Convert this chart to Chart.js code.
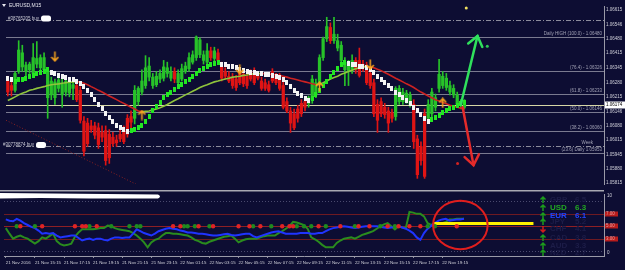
<!DOCTYPE html>
<html>
<head>
<meta charset="utf-8">
<script src="https://cdn.jsdelivr.net/npm/chart.js@4.4.0/dist/chart.umd.min.js"></script>
<style>
html, body { margin: 0; padding: 0; background: #0d0d33; }
#wrap { position: relative; width: 625px; height: 270px; overflow: hidden; background: #0d0d33; }
#main { position: absolute; left: 0; top: 0; }
#ind { position: absolute; left: 0; top: 190px; }
</style>
</head>
<body>
<div id="wrap">
  <canvas id="main" width="625" height="190"></canvas>
  <canvas id="ind" width="625" height="80"></canvas>
</div>
<script>
// EURUSD M15, 21 Nov 13:15 -> 22 Nov 20:45 (bar index 0..126)
const opens = [1.06286,1.06265,1.06243,1.06330,1.06351,1.06330,1.06338,1.06321,1.06364,1.06347,
  1.06338,1.06209,1.06222,1.06209,1.06252,1.06222,1.06235,1.06230,1.06252,1.06265,
  1.06243,1.06101,1.06092,1.06079,1.06079,1.06070,1.06049,1.06057,1.06040,1.06027,
  1.06014,1.06040,1.06062,1.06114,1.06122,1.06114,1.06191,1.06235,1.06265,1.06304,
  1.06265,1.06269,1.06295,1.06299,1.06321,1.06299,1.06330,1.06278,1.06295,1.06330,
  1.06343,1.06373,1.06394,1.06407,1.06381,1.06373,1.06425,1.06390,1.06416,1.06351,
  1.06330,1.06308,1.06304,1.06295,1.06330,1.06317,1.06308,1.06321,1.06330,1.06317,
  1.06286,1.06278,1.06269,1.06330,1.06308,1.06308,1.06265,1.06191,1.06148,1.06135,
  1.06157,1.06183,1.06191,1.06183,1.06200,1.06222,1.06278,1.06394,1.06481,1.06533,
  1.06472,1.06438,1.06381,1.06338,1.06330,1.06338,1.06381,1.06381,1.06364,1.06351,
  1.06321,1.06278,1.06178,1.06191,1.06165,1.06148,1.06140,1.06122,1.06191,1.06191,
  1.06200,1.06178,1.06178,1.06019,1.05984,1.06135,1.06114,1.06135,1.06165,1.06252,
  1.06265,1.06256,1.06235,1.06222,1.06178,1.06178,1.06165];
const highs = [1.06308,1.06286,1.06330,1.06472,1.06451,1.06373,1.06373,1.06459,1.06468,1.06407,
  1.06416,1.06347,1.06304,1.06295,1.06312,1.06295,1.06304,1.06295,1.06295,1.06286,
  1.06260,1.06122,1.06114,1.06105,1.06096,1.06092,1.06079,1.06079,1.06062,1.06049,
  1.06036,1.06062,1.06079,1.06131,1.06148,1.06265,1.06260,1.06338,1.06403,1.06394,
  1.06321,1.06330,1.06338,1.06381,1.06373,1.06351,1.06347,1.06338,1.06364,1.06373,
  1.06416,1.06425,1.06494,1.06485,1.06425,1.06459,1.06442,1.06442,1.06433,1.06373,
  1.06347,1.06330,1.06321,1.06312,1.06347,1.06338,1.06330,1.06338,1.06347,1.06330,
  1.06304,1.06295,1.06286,1.06343,1.06321,1.06321,1.06286,1.06209,1.06165,1.06157,
  1.06174,1.06200,1.06209,1.06217,1.06312,1.06295,1.06407,1.06489,1.06580,1.06554,
  1.06580,1.06502,1.06468,1.06394,1.06381,1.06407,1.06394,1.06438,1.06381,1.06373,
  1.06338,1.06295,1.06200,1.06209,1.06183,1.06165,1.06157,1.06260,1.06265,1.06252,
  1.06243,1.06235,1.06200,1.06036,1.06006,1.06157,1.06200,1.06252,1.06226,1.06386,
  1.06330,1.06321,1.06286,1.06269,1.06235,1.06200,1.06200];
const lows = [1.06217,1.06217,1.06235,1.06321,1.06330,1.06308,1.06321,1.06312,1.06347,1.06330,
  1.06330,1.06114,1.06200,1.06178,1.06235,1.06165,1.06217,1.06213,1.06200,1.06191,
  1.06092,1.05941,1.05984,1.06049,1.06019,1.05975,1.06006,1.05898,1.05906,1.05984,
  1.05984,1.06006,1.05997,1.06027,1.06062,1.06088,1.06174,1.06222,1.06252,1.06286,
  1.06252,1.06260,1.06278,1.06286,1.06304,1.06286,1.06278,1.06265,1.06286,1.06321,
  1.06330,1.06364,1.06381,1.06394,1.06364,1.06364,1.06381,1.06373,1.06364,1.06286,
  1.06295,1.06278,1.06252,1.06243,1.06269,1.06260,1.06252,1.06286,1.06269,1.06291,
  1.06243,1.06243,1.06235,1.06278,1.06269,1.06243,1.06157,1.06140,1.06049,1.06062,
  1.06096,1.06122,1.06148,1.06165,1.06183,1.06209,1.06265,1.06381,1.06468,1.06459,
  1.06459,1.06425,1.06364,1.06265,1.06265,1.06321,1.06321,1.06304,1.06330,1.06269,
  1.06252,1.06122,1.06049,1.06122,1.06114,1.06049,1.06096,1.06105,1.06178,1.06178,
  1.06183,1.06165,1.05975,1.05837,1.05898,1.05837,1.06096,1.06114,1.06148,1.06235,
  1.06252,1.06243,1.06222,1.06209,1.06165,1.06157,1.06157];
const closes = [1.06235,1.06243,1.06321,1.06429,1.06416,1.06360,1.06364,1.06394,1.06390,1.06394,
  1.06394,1.06334,1.06286,1.06282,1.06291,1.06273,1.06286,1.06278,1.06269,1.06200,
  1.06105,1.05962,1.05997,1.06062,1.06036,1.05993,1.06027,1.05919,1.05932,1.05997,
  1.06001,1.06019,1.06006,1.06040,1.06096,1.06243,1.06252,1.06286,1.06347,1.06355,
  1.06304,1.06308,1.06321,1.06351,1.06347,1.06330,1.06295,1.06321,1.06343,1.06355,
  1.06394,1.06407,1.06489,1.06476,1.06407,1.06425,1.06394,1.06425,1.06381,1.06299,
  1.06308,1.06286,1.06265,1.06256,1.06278,1.06273,1.06265,1.06295,1.06278,1.06299,
  1.06252,1.06252,1.06243,1.06286,1.06278,1.06252,1.06165,1.06148,1.06092,1.06070,
  1.06114,1.06135,1.06165,1.06209,1.06295,1.06278,1.06394,1.06481,1.06537,1.06472,
  1.06502,1.06472,1.06451,1.06373,1.06360,1.06381,1.06338,1.06312,1.06347,1.06278,
  1.06265,1.06135,1.06105,1.06135,1.06131,1.06092,1.06114,1.06252,1.06252,1.06235,
  1.06230,1.06222,1.06006,1.05854,1.05919,1.05846,1.06178,1.06235,1.06209,1.06317,
  1.06308,1.06299,1.06265,1.06252,1.06222,1.06191,1.06174];

// trailing stop blocks (white = down run, green = up run)
const trail = [1.06299,1.06295,
  1.06286,1.06291,1.06295,1.06299,1.06308,1.06312,1.06321,1.06325,1.06330,1.06338,
  1.06325,1.06321,1.06312,1.06308,1.06304,1.06295,1.06291,1.06282,1.06273,1.06260,1.06243,
  1.06222,1.06200,1.06178,1.06157,1.06135,1.06118,1.06101,1.06083,1.06070,1.06062,1.06053,
  1.06057,1.06062,1.06070,1.06083,1.06101,1.06122,1.06148,1.06170,1.06187,1.06209,1.06222,
  1.06235,1.06247,1.06260,1.06269,1.06282,1.06295,1.06308,1.06321,1.06334,1.06343,1.06351,
  1.06360,1.06368,1.06373,
  1.06364,1.06360,1.06355,1.06351,1.06347,1.06338,1.06334,1.06330,1.06325,1.06325,1.06321,
  1.06321,1.06317,1.06317,1.06312,1.06308,1.06304,1.06291,1.06278,1.06260,1.06243,1.06230,
  1.06217,1.06204,1.06196,
  1.06204,1.06222,1.06243,1.06265,1.06286,1.06308,1.06325,1.06343,1.06360,1.06373,
  1.06368,1.06364,1.06360,1.06355,1.06351,1.06347,1.06338,1.06325,1.06308,1.06295,1.06278,
  1.06265,1.06252,1.06235,1.06222,1.06209,1.06196,1.06183,1.06165,1.06148,1.06131,1.06114,1.06101,
  1.06109,1.06118,1.06127,1.06140,1.06148,1.06157,1.06165,1.06174,1.06183,1.06187];
const trailDownRuns = [[0, 1], [12, 33], [59, 83], [94, 116]];

// moving average (green while rising, red while falling)
const ma = [1.06196,1.06204,1.06213,1.06222,1.06230,1.06235,1.06243,1.06247,1.06252,1.06256,
  1.06260,1.06265,1.06269,1.06271,1.06273,1.06276,1.06278,1.06280,1.06282,1.06283,
  1.06281,1.06276,1.06269,1.06260,1.06252,1.06243,1.06235,1.06226,1.06217,1.06209,
  1.06200,1.06191,1.06183,1.06174,1.06165,1.06157,1.06148,1.06144,1.06146,1.06148,
  1.06153,1.06157,1.06163,1.06170,1.06178,1.06187,1.06196,1.06204,1.06213,1.06222,
  1.06230,1.06239,1.06247,1.06256,1.06263,1.06269,1.06276,1.06282,1.06286,1.06291,
  1.06295,1.06299,1.06304,1.06306,1.06308,1.06312,1.06314,1.06317,1.06319,1.06320,
  1.06321,1.06320,1.06318,1.06316,1.06314,1.06312,1.06308,1.06304,1.06299,1.06295,
  1.06291,1.06286,1.06282,1.06278,1.06273,1.06269,1.06271,1.06278,1.06286,1.06295,
  1.06302,1.06308,1.06317,1.06323,1.06330,1.06336,1.06343,1.06347,1.06351,1.06353,
  1.06351,1.06347,1.06340,1.06334,1.06325,1.06317,1.06308,1.06299,1.06291,1.06282,
  1.06273,1.06265,1.06256,1.06245,1.06235,1.06226,1.06217,1.06209,1.06200,1.06194,
  1.06187,1.06181,1.06174,1.06170,1.06165,1.06161,1.06157];

const sellBars = [13, 64, 100];
const sellPrices = [1.06399, 1.06340, 1.06362];
const buyBars = [37, 86, 120];
const buyPrices = [1.06129, 1.06260, 1.06185];

// hand drawn arrows and dots
const upArrowBars = [125, 129.6];
const upArrowPrices = [1.06178, 1.06494];
const downArrowBars = [125.5, 128.5];
const downArrowPrices = [1.06165, 1.05898];
const markerBars = [132.3, 124.1, 126.5];
const markerPrices = [1.06446, 1.05906, 1.06623];
const markerColors = ['#2ecc55', '#d22222', '#f0e060'];
const trendLineBars = [-0.5, 36];
const trendLinePrices = [1.06105, 1.05805];

// horizontal levels
const fibLevels = [1.06490, 1.06330, 1.06226, 1.06144, 1.06057, 1.05954];
const fibLabels = ['Daily HIGH (100.0) - 1.06480', '(76.4) - 1.06326', '(61.8) - 1.06233',
  '(50.0) - 1.06146', '(38.2) - 1.06060', '(23.6) Daily 1.05953'];
const orderLevels = [1.06567, 1.05984];
const orderLabels = ['#38765205 buy', '#30778874 buy'];

const priceTicks = [1.06615, 1.06546, 1.06480, 1.06415, 1.06345, 1.06280, 1.06215,
  1.06146, 1.06080, 1.06015, 1.05945, 1.05880, 1.05815];

// strength indicator (subwindow)
const usdLine = [4.7,3.8,3.0,3.3,3.5,3.2,3.0,2.6,2.2,2.6,3.2,3.0,3.4,3.8,2.6,2.1,1.9,2.0,2.2,3.3,
  4.0,4.5,4.5,4.5,4.5,4.6,4.7,4.7,5.1,5.0,4.7,4.5,4.4,4.3,4.2,3.9,3.5,3.0,2.4,1.6,
  2.4,2.8,3.0,3.5,3.9,3.9,3.8,3.8,3.7,3.6,3.5,3.2,2.8,2.6,2.3,2.2,2.5,2.7,2.9,3.1,
  3.3,3.4,3.5,3.0,2.4,2.7,2.9,3.0,3.0,3.0,3.2,3.4,3.5,3.5,3.5,3.9,4.2,4.6,5.0,5.7,
  5.6,5.4,5.2,4.6,3.2,2.9,2.5,2.0,1.6,1.6,1.6,2.3,2.7,3.0,3.1,3.2,3.0,3.3,3.6,3.8,
  4.0,4.2,4.6,5.0,5.3,5.5,5.0,4.5,5.0,4.8,4.7,7.3,7.2,7.0,7.0,6.6,5.5,5.2,5.5,5.5,
  5.5,5.7,6.1,6.1,6.2,6.2,6.2];
const eurLine = [6.1,5.9,5.8,6.2,5.9,5.5,5.2,4.9,4.7,4.3,3.8,3.9,3.8,3.9,3.5,3.2,3.3,3.4,3.5,3.5,
  3.1,2.7,2.9,3.0,2.8,3.0,3.0,2.8,2.7,3.0,3.2,3.2,3.1,3.2,3.2,3.8,4.5,4.2,3.9,3.7,
  3.5,3.8,4.2,4.4,4.6,4.7,4.6,4.5,4.3,4.2,4.0,4.0,3.9,3.8,3.8,3.7,3.6,3.5,3.5,3.6,
  3.7,3.8,3.6,3.5,3.6,3.7,3.8,3.8,3.4,3.2,3.4,3.6,3.8,4.0,4.1,4.2,4.0,3.8,3.8,3.8,
  3.8,3.9,3.9,3.9,3.8,3.8,3.9,3.9,4.2,4.5,4.7,4.8,4.9,5.0,4.9,4.8,4.7,4.8,4.9,5.0,
  5.0,5.0,5.0,4.9,4.8,4.7,4.8,4.9,5.0,4.8,4.6,4.3,3.9,3.2,2.8,3.9,4.6,5.1,5.5,5.9,
  6.1,6.2,5.9,6.0,6.1,6.1,6.2];
const redDotBars = [4, 10, 19, 21, 22, 25, 46, 48, 53, 57, 64, 67, 70, 76, 78, 79, 86, 92, 97, 100, 105, 108, 111, 114, 124];
const greenDotBars = [3, 8, 23, 29, 34, 36, 37, 49, 50, 52, 56, 68, 73, 80, 82, 84, 88, 96, 103, 107, 116, 118];
const dotLevel = 5;
const indLevels = [7, 5, 3];
const indDotted = [9, 1];
const yellowBars = [117.8, 145.1];
const yellowValue = 5.46;
const circleCenter = [125.0, 5.2];
const circleRadius = [7.5, 3.9];
const panelRows = [
  ['up', 'GBP', '6.5', 'dim'], ['up', 'USD', '6.3', 'usd'], ['up', 'EUR', '6.1', 'eur'],
  ['up', 'JPY', '5.2', 'dim'], ['down', 'CHF', '4.1', 'dim'], ['up', 'CAD', '3.8', 'dim'],
  ['up', 'AUD', '3.3', 'dim'], ['up', 'NZD', '2.7', 'dim']];

const tickBars = [0, 8, 16, 24, 32, 40, 48, 56, 64, 72, 80, 88, 96, 104, 112, 120];
const tickLabels = ['21 Nov 2016', '21 Nov 15:15', '21 Nov 17:15', '21 Nov 19:15', '21 Nov 21:15',
  '21 Nov 23:15', '22 Nov 01:15', '22 Nov 03:15', '22 Nov 05:15', '22 Nov 07:15', '22 Nov 09:15',
  '22 Nov 11:15', '22 Nov 13:15', '22 Nov 15:15', '22 Nov 17:15', '22 Nov 19:15'];

const X_MIN = -0.5, X_MAX = 164.5;
const FONT = 'Liberation Sans';
const BULL = '#27c229', BEAR = '#e01414';

function isDown(i) {
  return trailDownRuns.some(r => i >= r[0] && i <= r[1]);
}

function signalImage(up) {
  const c = document.createElement('canvas');
  c.width = 9; c.height = 11;
  const g = c.getContext('2d');
  g.strokeStyle = '#f6a21e';
  g.lineWidth = 1.6;
  g.beginPath();
  if (up) {
    g.moveTo(4.5, 10.5); g.lineTo(4.5, 1.5);
    g.moveTo(1, 5); g.lineTo(4.5, 1.2); g.lineTo(8, 5);
  } else {
    g.moveTo(4.5, 0.5); g.lineTo(4.5, 9.5);
    g.moveTo(1, 6); g.lineTo(4.5, 9.8); g.lineTo(8, 6);
  }
  g.stroke();
  return c;
}

function blockImage(color) {
  const c = document.createElement('canvas');
  c.width = 3; c.height = 5;
  const g = c.getContext('2d');
  g.fillStyle = color;
  g.fillRect(0, 0, 3, 5);
  return c;
}

const upSignal = signalImage(true);
const downSignal = signalImage(false);
const whiteBlock = blockImage('#f4f4f4');
const greenBlock = blockImage('#22e622');

function hline(ctx, x1, x2, y) {
  ctx.beginPath();
  ctx.moveTo(x1, y);
  ctx.lineTo(x2, y);
  ctx.stroke();
}

const candleColors = opens.map((o, i) => closes[i] >= o ? BULL : BEAR);

const mainDecor = {
  id: 'mainDecor',
  beforeDatasetsDraw(chart) {
    const { ctx, chartArea: a, scales: { y } } = chart;
    ctx.save();
    ctx.lineWidth = 1;
    ctx.strokeStyle = '#7a7a90';
    fibLevels.forEach(p => hline(ctx, a.left, a.right, Math.round(y.getPixelForValue(p)) + 0.5));
    ctx.strokeStyle = '#8c8c9c';
    ctx.setLineDash([5, 2, 1, 2]);
    orderLevels.forEach(p => hline(ctx, a.left, a.right, Math.round(y.getPixelForValue(p)) + 0.5));
    ctx.setLineDash([]);
    // bid line
    ctx.strokeStyle = '#d6d6a6';
    hline(ctx, a.left, a.right, Math.round(y.getPixelForValue(closes[closes.length - 1])) + 0.5);
    ctx.restore();
  },
  afterDatasetsDraw(chart) {
    const { ctx, chartArea: a, scales: { y } } = chart;
    ctx.save();
    // arrow heads on the drawn arrows
    chart.data.datasets.forEach((ds, i) => {
      if (!ds.arrowHead) return;
      const pts = chart.getDatasetMeta(i).data;
      const p0 = pts[pts.length - 2], p1 = pts[pts.length - 1];
      const ang = Math.atan2(p1.y - p0.y, p1.x - p0.x);
      ctx.strokeStyle = ds.borderColor;
      ctx.lineWidth = 2.5;
      ctx.lineCap = 'round';
      ctx.beginPath();
      ctx.moveTo(p1.x - 12 * Math.cos(ang - 0.65), p1.y - 12 * Math.sin(ang - 0.65));
      ctx.lineTo(p1.x, p1.y);
      ctx.lineTo(p1.x - 12 * Math.cos(ang + 0.65), p1.y - 12 * Math.sin(ang + 0.65));
      ctx.stroke();
    });

    ctx.font = '4.5px ' + FONT;
    ctx.textBaseline = 'bottom';
    ctx.fillStyle = '#a0a0b4';
    ctx.textAlign = 'right';
    fibLevels.forEach((p, i) => ctx.fillText(fibLabels[i], a.right - 2, y.getPixelForValue(p) - 1));
    ctx.fillText('Week', a.right - 11, y.getPixelForValue(orderLevels[1]) - 1);

    ctx.textAlign = 'left';
    ctx.textBaseline = 'middle';
    ctx.fillStyle = '#c8c8d4';
    orderLabels.forEach((t, i) => {
      const py = y.getPixelForValue(orderLevels[i]) - 1.5;
      const x0 = i === 0 ? 8 : 3;
      ctx.fillText(t, x0, py);
      const w = ctx.measureText(t).width;
      ctx.fillStyle = '#ffffff';
      ctx.beginPath();
      ctx.roundRect(x0 + w + 2, py - 3, 10, 6, 2.5);
      ctx.fill();
      ctx.fillStyle = '#c8c8d4';
    });

    // window title
    ctx.fillStyle = '#e6e6ee';
    ctx.font = '5px ' + FONT;
    ctx.fillText('EURUSD,M15', 9, 5.5);
    ctx.beginPath();
    ctx.moveTo(2, 4); ctx.lineTo(6, 4); ctx.lineTo(4, 7); ctx.closePath();
    ctx.fill();
    ctx.restore();
  },
  afterDraw(chart) {
    const { ctx, chartArea: a, scales: { y } } = chart;
    const bid = closes[closes.length - 1];
    const py = Math.round(y.getPixelForValue(bid));
    ctx.save();
    ctx.fillStyle = '#ffffff';
    ctx.fillRect(a.right + 1, py - 3.5, 20, 7);
    ctx.fillStyle = '#000000';
    ctx.font = '4.5px ' + FONT;
    ctx.textBaseline = 'middle';
    ctx.fillText(bid.toFixed(5), a.right + 2, py);
    ctx.restore();
  }
};

new Chart(document.getElementById('main').getContext('2d'), {
  type: 'bar',
  data: {
    datasets: [
      {
        type: 'line', order: 8,
        data: trendLineBars.map((b, i) => ({ x: b, y: trendLinePrices[i] })),
        borderColor: '#8a2222', borderWidth: 1, borderDash: [1, 2], pointRadius: 0
      },
      {
        data: opens.map((o, i) => ({ x: i, y: [lows[i], highs[i]] })),
        backgroundColor: candleColors, barThickness: 1, grouped: false, order: 7
      },
      {
        data: opens.map((o, i) => ({ x: i, y: [o, closes[i]] })),
        backgroundColor: candleColors, barThickness: 2.6, minBarLength: 1, grouped: false, order: 6
      },
      {
        type: 'line', order: 5,
        data: ma.map((v, i) => ({ x: i, y: v })),
        borderWidth: 1.6, pointRadius: 0, borderColor: '#cc2222',
        segment: { borderColor: c => c.p1.parsed.y >= c.p0.parsed.y ? '#8fc43c' : '#cc2222' }
      },
      {
        type: 'scatter', order: 4,
        data: trail.map((t, i) => ({ x: i, y: t })),
        pointStyle: c => isDown(c.dataIndex) ? whiteBlock : greenBlock,
        pointRadius: 3
      },
      {
        type: 'scatter', order: 3,
        data: sellBars.map((b, i) => ({ x: b, y: sellPrices[i] })),
        pointStyle: downSignal, pointRadius: 5
      },
      {
        type: 'scatter', order: 3,
        data: buyBars.map((b, i) => ({ x: b, y: buyPrices[i] })),
        pointStyle: upSignal, pointRadius: 5
      },
      {
        type: 'line', order: 2, arrowHead: true,
        data: upArrowBars.map((b, i) => ({ x: b, y: upArrowPrices[i] })),
        borderColor: '#2fe05c', borderWidth: 2.5, pointRadius: 0, borderCapStyle: 'round'
      },
      {
        type: 'line', order: 2, arrowHead: true,
        data: downArrowBars.map((b, i) => ({ x: b, y: downArrowPrices[i] })),
        borderColor: '#e42a2a', borderWidth: 2.5, pointRadius: 0, borderCapStyle: 'round'
      },
      {
        type: 'scatter', order: 1,
        data: markerBars.map((b, i) => ({ x: b, y: markerPrices[i] })),
        backgroundColor: markerColors, borderWidth: 0, pointRadius: 1.5
      }
    ]
  },
  options: {
    responsive: false,
    animation: false,
    devicePixelRatio: 1,
    layout: { padding: 0 },
    plugins: { legend: { display: false }, tooltip: { enabled: false } },
    scales: {
      x: { type: 'linear', min: X_MIN, max: X_MAX, offset: false, display: false },
      y: {
        position: 'right', min: 1.05811, max: 1.06632,
        grid: { display: false, drawTicks: false },
        border: { color: '#9a9aa8' },
        ticks: { color: '#cfcfd8', font: { family: FONT, size: 4.5 }, padding: 2, autoSkip: false,
                 callback: v => v.toFixed(5) },
        afterBuildTicks: s => { s.ticks = priceTicks.map(v => ({ value: v })); },
        afterFit: s => { s.width = 21; s.paddingTop = 0; s.paddingBottom = 0; }
      }
    }
  },
  plugins: [mainDecor]
});

function panelArrow(ctx, x, y, up, color) {
  ctx.strokeStyle = color;
  ctx.lineWidth = 1.5;
  ctx.beginPath();
  const d = up ? -1 : 1;
  ctx.moveTo(x, y - 3 * d); ctx.lineTo(x, y + 3 * d);
  ctx.moveTo(x - 2.5, y + 0.5 * d); ctx.lineTo(x, y + 3 * d); ctx.lineTo(x + 2.5, y + 0.5 * d);
  ctx.stroke();
}

const indDecor = {
  id: 'indDecor',
  beforeDatasetsDraw(chart) {
    const { ctx, chartArea: a, scales: { y } } = chart;
    ctx.save();
    ctx.fillStyle = '#a8a8b2';
    ctx.fillRect(0, 0, a.right, 1.5);
    ctx.lineWidth = 1;
    indLevels.forEach((v, i) => {
      ctx.strokeStyle = i === 1 ? '#8e1f24' : '#6e1a22';
      hline(ctx, a.left, a.right, Math.round(y.getPixelForValue(v)) + 0.5);
    });
    ctx.strokeStyle = '#4a4a6e';
    ctx.setLineDash([1, 2]);
    indDotted.forEach(v => hline(ctx, a.left, a.right, Math.round(y.getPixelForValue(v)) + 0.5));
    ctx.setLineDash([]);
    // scribbled-out title
    ctx.fillStyle = '#ffffff';
    ctx.beginPath();
    ctx.moveTo(0, 3); ctx.lineTo(158, 4.5); ctx.quadraticCurveTo(162, 6.5, 158, 8.5);
    ctx.lineTo(90, 8.5); ctx.lineTo(40, 8); ctx.lineTo(0, 8.5); ctx.closePath();
    ctx.fill();
    ctx.restore();
  },
  afterDatasetsDraw(chart) {
    const { ctx, chartArea: a, scales: { x, y } } = chart;
    ctx.save();
    // red ellipse around the last bars
    const cx = x.getPixelForValue(circleCenter[0]);
    const cy = y.getPixelForValue(circleCenter[1]);
    const rx = Math.abs(x.getPixelForValue(circleCenter[0] + circleRadius[0]) - cx);
    const ry = Math.abs(y.getPixelForValue(circleCenter[1] + circleRadius[1]) - cy);
    ctx.strokeStyle = '#e01e1e';
    ctx.lineWidth = 2;
    ctx.beginPath();
    ctx.ellipse(cx, cy, rx, ry, 0, 0, Math.PI * 2);
    ctx.stroke();

    // strength table
    ctx.textBaseline = 'middle';
    const rowY = [10, 18, 26, 32, 39, 48, 56, 63];
    panelRows.forEach((r, i) => {
      const ry2 = rowY[i];
      panelArrow(ctx, a.right - 61, ry2, r[0] === 'up', r[0] === 'up' ? '#1c9c1c' : '#d21c1c');
      let col = '#1d1d48';
      if (r[3] === 'usd') col = '#22a822';
      if (r[3] === 'eur') col = '#2244ff';
      ctx.fillStyle = col;
      ctx.font = 'bold 8px ' + FONT;
      ctx.fillText(r[1], a.right - 54, ry2);
      ctx.fillText(r[2], a.right - 29, ry2);
    });

    // right scale marks
    ctx.font = '4.5px ' + FONT;
    indLevels.forEach(v => {
      const py = Math.round(y.getPixelForValue(v));
      ctx.fillStyle = '#b81c1c';
      ctx.fillRect(a.right + 1, py - 2.5, 13, 5);
      ctx.fillStyle = '#e8a0a0';
      ctx.fillText(v.toFixed(2), a.right + 2, py);
    });
    ctx.fillStyle = '#cfcfd8';
    ctx.fillText('10', a.right + 3, 6);
    ctx.fillText('0', a.right + 3, a.bottom - 3);
    ctx.restore();
  }
};

new Chart(document.getElementById('ind').getContext('2d'), {
  type: 'line',
  data: {
    datasets: [
      {
        type: 'scatter', order: 1,
        data: redDotBars.map(b => ({ x: b, y: dotLevel })),
        backgroundColor: '#e02424', borderWidth: 0, pointRadius: 2.2
      },
      {
        type: 'scatter', order: 1,
        data: greenDotBars.map(b => ({ x: b, y: dotLevel })),
        backgroundColor: '#1f8a1f', borderWidth: 0, pointRadius: 2.2
      },
      {
        order: 2,
        data: yellowBars.map(b => ({ x: b, y: yellowValue })),
        borderColor: '#fff200', borderWidth: 3, pointRadius: 0
      },
      {
        order: 3,
        data: eurLine.map((v, i) => ({ x: i, y: v })),
        borderColor: '#1f34ff', borderWidth: 2, pointRadius: 0
      },
      {
        order: 4,
        data: usdLine.map((v, i) => ({ x: i, y: v })),
        borderColor: '#2a8c1e', borderWidth: 2, pointRadius: 0
      }
    ]
  },
  options: {
    responsive: false,
    animation: false,
    devicePixelRatio: 1,
    layout: { padding: { top: 1 } },
    plugins: { legend: { display: false }, tooltip: { enabled: false } },
    scales: {
      x: {
        type: 'linear', min: X_MIN, max: X_MAX,
        grid: { drawOnChartArea: false, drawTicks: true, tickLength: 2, color: '#8c8c9c' },
        border: { color: '#9a9aa8' },
        ticks: {
          color: '#cfcfd8', font: { family: FONT, size: 4.4 }, align: 'start', padding: 2,
          maxRotation: 0, autoSkip: false,
          callback: v => tickLabels[tickBars.indexOf(v)]
        },
        afterBuildTicks: s => { s.ticks = tickBars.map(v => ({ value: v })); },
        afterFit: s => { s.height = 14; s.paddingLeft = 0; s.paddingRight = 0; }
      },
      y: {
        position: 'right', min: 0.2, max: 10.2,
        grid: { display: false, drawTicks: false },
        border: { color: '#9a9aa8' },
        ticks: { display: false },
        afterFit: s => { s.width = 21; s.paddingTop = 0; s.paddingBottom = 0; }
      }
    }
  },
  plugins: [indDecor]
});
</script>
</body>
</html>
